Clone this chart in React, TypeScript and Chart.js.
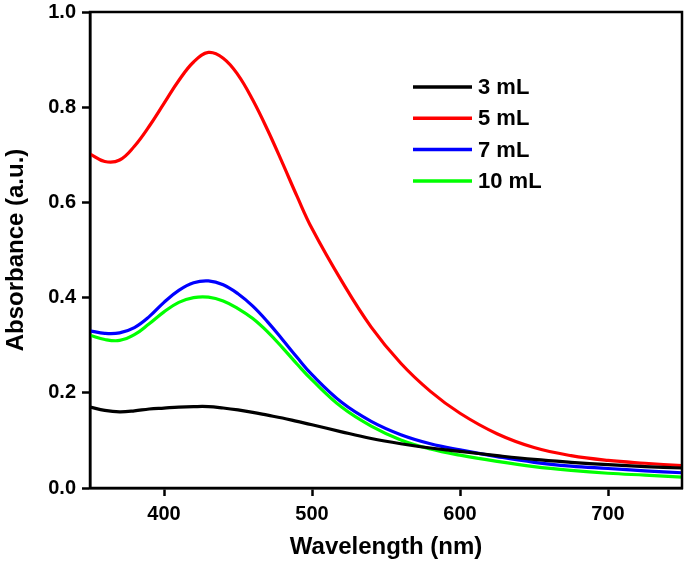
import React, { useEffect, useRef } from "react";
import { Chart, registerables } from "chart.js";

Chart.register(...registerables);

// Wavelength grid (nm)
const wavelengths = [350, 360, 370, 380, 390, 400, 410, 420, 430, 440, 450, 460, 470, 480, 490, 500, 520, 540, 560, 580, 600, 625, 650, 675, 700, 725, 750];

// Absorbance (a.u.) for each volume
const abs3mL = [0.170, 0.163, 0.160, 0.162, 0.166, 0.168, 0.170, 0.171, 0.171, 0.168, 0.164, 0.159, 0.153, 0.147, 0.140, 0.133, 0.118, 0.104, 0.093, 0.084, 0.077, 0.068, 0.060, 0.054, 0.049, 0.045, 0.042];
const abs5mL = [0.702, 0.686, 0.689, 0.718, 0.760, 0.808, 0.856, 0.895, 0.915, 0.903, 0.868, 0.815, 0.752, 0.683, 0.612, 0.545, 0.435, 0.338, 0.262, 0.203, 0.157, 0.114, 0.085, 0.068, 0.058, 0.052, 0.047];
const abs7mL = [0.330, 0.325, 0.326, 0.337, 0.360, 0.390, 0.415, 0.431, 0.435, 0.427, 0.408, 0.382, 0.349, 0.312, 0.274, 0.238, 0.180, 0.140, 0.112, 0.093, 0.080, 0.066, 0.054, 0.046, 0.041, 0.036, 0.032];
const abs10mL = [0.321, 0.312, 0.310, 0.322, 0.345, 0.370, 0.390, 0.400, 0.401, 0.393, 0.377, 0.356, 0.328, 0.295, 0.260, 0.227, 0.170, 0.130, 0.101, 0.082, 0.069, 0.056, 0.045, 0.037, 0.031, 0.027, 0.023];

const seriesLabels = ["3 mL", "5 mL", "7 mL", "10 mL"];
const seriesValues = [abs3mL, abs5mL, abs7mL, abs10mL];
const seriesColors = ["#000000", "#ff0000", "#0000ff", "#00ff00"];

const xTickValues = [400, 500, 600, 700];
const yTickValues = [0, 0.2, 0.4, 0.6, 0.8, 1.0];

const FONT = '"Liberation Sans", Arial, sans-serif';

const boxPlugin = {
  id: "plotBox",
  afterDraw(chart: any) {
    const { ctx, chartArea } = chart;
    const { left, top, right, bottom } = chartArea;
    ctx.save();
    ctx.strokeStyle = "#000";
    ctx.lineWidth = 2.5;
    ctx.strokeRect(left, top, right - left, bottom - top);
    ctx.restore();
  },
};

const legendPlugin = {
  id: "insideLegend",
  afterDraw(chart: any) {
    const { ctx, chartArea } = chart;
    const { left, top } = chartArea;
    ctx.save();
    ctx.font = `bold 22px ${FONT}`;
    ctx.textBaseline = "middle";
    ctx.textAlign = "left";
    chart.data.datasets.forEach((ds: any, i: number) => {
      const y = top + 75 + i * 31.3;
      ctx.strokeStyle = ds.borderColor;
      ctx.lineWidth = 3.5;
      ctx.beginPath();
      ctx.moveTo(left + 323, y);
      ctx.lineTo(left + 382, y);
      ctx.stroke();
      ctx.fillStyle = "#000";
      ctx.fillText(ds.label, left + 388, y + 1);
    });
    ctx.restore();
  },
};

export default function App() {
  const canvasRef = useRef<HTMLCanvasElement | null>(null);

  useEffect(() => {
    if (!canvasRef.current) return;
    const datasets = seriesLabels.map((label, i) => ({
      label,
      data: wavelengths.map((w, j) => ({ x: w, y: seriesValues[i][j] })),
      borderColor: seriesColors[i],
      backgroundColor: seriesColors[i],
      borderWidth: 3.2,
      pointRadius: 0,
      tension: 0.4,
      fill: false,
    }));

    const tickFont = { family: FONT, size: 20, weight: "bold" as const };

    const chart = new Chart(canvasRef.current, {
      type: "line",
      data: { datasets },
      plugins: [boxPlugin, legendPlugin],
      options: {
        animation: false,
        responsive: false,
        devicePixelRatio: 1,
        layout: { padding: { left: 0, right: 3, top: 12, bottom: 0 } },
        plugins: {
          legend: { display: false },
          tooltip: { enabled: false },
        },
        scales: {
          x: {
            type: "linear",
            min: 350,
            max: 750,
            afterBuildTicks: (scale: any) => {
              scale.ticks = xTickValues.map((v) => ({ value: v }));
            },
            afterFit: (scale: any) => {
              scale.height = 77;
              scale.paddingLeft = 0;
              scale.paddingRight = 0;
            },
            ticks: {
              color: "#000",
              font: tickFont,
              padding: 6,
              maxRotation: 0,
              callback: (v: any) => String(v),
            },
            grid: {
              display: true,
              drawOnChartArea: false,
              drawTicks: true,
              tickLength: 8,
              tickWidth: 2.5,
              tickColor: "#000",
            },
            border: { display: true, color: "#000", width: 2.5 },
            title: {
              display: true,
              text: "Wavelength (nm)",
              color: "#000",
              font: { family: FONT, size: 24, weight: "bold" },
              padding: { top: 0, bottom: 3 },
            },
          },
          y: {
            type: "linear",
            min: 0,
            max: 1,
            afterBuildTicks: (scale: any) => {
              scale.ticks = yTickValues.map((v) => ({ value: v }));
            },
            afterFit: (scale: any) => {
              scale.width = 90;
              scale.paddingTop = 0;
              scale.paddingBottom = 0;
            },
            ticks: {
              color: "#000",
              font: tickFont,
              padding: 6,
              callback: (v: any) => Number(v).toFixed(1),
            },
            grid: {
              display: true,
              drawOnChartArea: false,
              drawTicks: true,
              tickLength: 8,
              tickWidth: 2.5,
              tickColor: "#000",
            },
            border: { display: true, color: "#000", width: 2.5 },
            title: {
              display: true,
              text: "Absorbance (a.u.)",
              color: "#000",
              font: { family: FONT, size: 24, weight: "bold" },
              padding: { top: 2, bottom: 0 },
            },
          },
        },
      },
    });

    return () => {
      chart.destroy();
    };
  }, []);

  return (
    <div style={{ position: "fixed", left: 0, top: 0, width: 685, height: 565, background: "#fff" }}>
      <canvas ref={canvasRef} width={685} height={565} style={{ display: "block" }} />
    </div>
  );
}
